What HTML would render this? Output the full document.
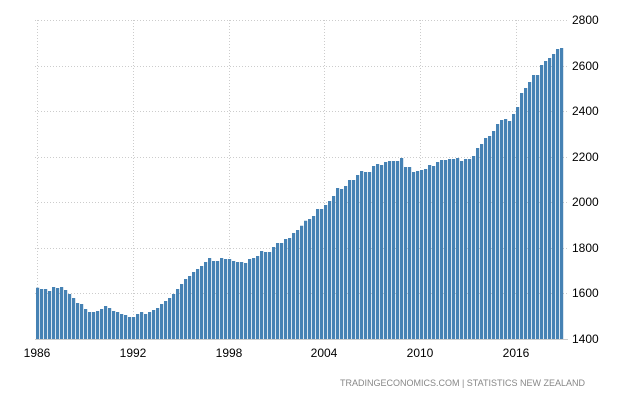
<!DOCTYPE html>
<html><head><style>body{margin:0;background:#fff}svg{display:block}</style></head><body>
<svg width="625" height="400" xmlns="http://www.w3.org/2000/svg" font-family="Liberation Sans, sans-serif">
<g stroke="#ccc" stroke-dasharray="1,2" stroke-width="1">
<line x1="35" x2="568" y1="20.5" y2="20.5"/><line x1="35" x2="568" y1="66.5" y2="66.5"/><line x1="35" x2="568" y1="111.5" y2="111.5"/><line x1="35" x2="568" y1="157.5" y2="157.5"/><line x1="35" x2="568" y1="202.5" y2="202.5"/><line x1="35" x2="568" y1="248.5" y2="248.5"/><line x1="35" x2="568" y1="293.5" y2="293.5"/>
<line x1="37.5" x2="37.5" y1="20" y2="339"/><line x1="133.5" x2="133.5" y1="20" y2="339"/><line x1="229.5" x2="229.5" y1="20" y2="339"/><line x1="324.5" x2="324.5" y1="20" y2="339"/><line x1="420.5" x2="420.5" y1="20" y2="339"/><line x1="516.5" x2="516.5" y1="20" y2="339"/>
</g>
<path fill="#4682b4" d="
M36 339V287.7h3.2V339zM40 339V289h3.2V339zM44 339V289h3.2V339zM48 339V291h3.2V339zM52 339V287h3.2V339zM56 339V288h3.2V339zM60 339V287h3.2V339zM64 339V290h3.2V339zM68 339V294h3.2V339zM72 339V298h3.2V339z
M76 339V303h3.2V339zM80 339V304h3.2V339zM84 339V309h3.2V339zM88 339V312h3.2V339zM92 339V312h3.2V339zM96 339V311h3.2V339zM100 339V309h3.2V339zM104 339V306h3.2V339zM108 339V308h3.2V339zM112 339V311h3.2V339z
M116 339V312h3.2V339zM120 339V314h3.2V339zM124 339V315h3.2V339zM128 339V317h3.2V339zM132 339V317h3.2V339zM136 339V314h3.2V339zM140 339V312h3.2V339zM144 339V314h3.2V339zM148 339V312h3.2V339zM152 339V310h3.2V339z
M156 339V308h3.2V339zM160 339V304h3.2V339zM164 339V301h3.2V339zM168 339V298h3.2V339zM172 339V294h3.2V339zM176 339V289h3.2V339zM180 339V284h3.2V339zM184 339V279h3.2V339zM188 339V276h3.2V339zM192 339V272h3.2V339z
M196 339V269h3.2V339zM200 339V266h3.2V339zM204 339V262h3.2V339zM208 339V258h3.2V339zM212 339V261h3.2V339zM216 339V261h3.2V339zM220 339V258h3.2V339zM224 339V259h3.2V339zM228 339V259h3.2V339zM232 339V261h3.2V339z
M236 339V262h3.2V339zM240 339V262h3.2V339zM244 339V263h3.2V339zM248 339V259h3.2V339zM252 339V258h3.2V339zM256 339V256h3.2V339zM260 339V251h3.2V339zM264 339V252h3.2V339zM268 339V252h3.2V339zM272 339V247h3.2V339z
M276 339V243h3.2V339zM280 339V243h3.2V339zM284 339V239h3.2V339zM288 339V238h3.2V339zM292 339V233h3.2V339zM296 339V230h3.2V339zM300 339V225.7h3.2V339zM304 339V220.7h3.2V339zM308 339V219h3.2V339zM312 339V216h3.2V339z
M316 339V209h3.2V339zM320 339V209h3.2V339zM324 339V205h3.2V339zM328 339V201h3.2V339zM332 339V196h3.2V339zM336 339V188h3.2V339zM340 339V189h3.2V339zM344 339V186h3.2V339zM348 339V180h3.2V339zM352 339V180h3.2V339z
M356 339V175h3.2V339zM360 339V171h3.2V339zM364 339V172h3.2V339zM368 339V172h3.2V339zM372 339V166h3.2V339zM376 339V164h3.2V339zM380 339V165h3.2V339zM384 339V162h3.2V339zM388 339V161h3.2V339zM392 339V161h3.2V339z
M396 339V161h3.2V339zM400 339V158h3.2V339zM404 339V167h3.2V339zM408 339V167h3.2V339zM412 339V172h3.2V339zM416 339V171h3.2V339zM420 339V170h3.2V339zM424 339V169h3.2V339zM428 339V165h3.2V339zM432 339V166h3.2V339z
M436 339V162h3.2V339zM440 339V160h3.2V339zM444 339V160h3.2V339zM448 339V159h3.2V339zM452 339V159h3.2V339zM456 339V158h3.2V339zM460 339V161h3.2V339zM464 339V159h3.2V339zM468 339V159h3.2V339zM472 339V156h3.2V339z
M476 339V148h3.2V339zM480 339V144h3.2V339zM484 339V138h3.2V339zM488 339V136h3.2V339zM492 339V131h3.2V339zM496 339V124h3.2V339zM500 339V120h3.2V339zM504 339V119h3.2V339zM508 339V121h3.2V339zM512 339V114h3.2V339z
M516 339V107h3.2V339zM520 339V93h3.2V339zM524 339V88h3.2V339zM528 339V82h3.2V339zM532 339V75h3.2V339zM536 339V75h3.2V339zM540 339V65h3.2V339zM544 339V61h3.2V339zM548 339V58h3.2V339zM552 339V54h3.2V339z
M556 339V49h3.2V339zM560 339V48h3.2V339z"/>
<line x1="35" x2="568" y1="339.5" y2="339.5" stroke="#ccc"/>
<g font-size="12" fill="#000">
<text x="572" y="24">2800</text><text x="572" y="70">2600</text><text x="572" y="115">2400</text><text x="572" y="161">2200</text><text x="572" y="206">2000</text><text x="572" y="252">1800</text><text x="572" y="297">1600</text><text x="572" y="343">1400</text>
</g>
<g font-size="12" fill="#000" text-anchor="middle">
<text x="37" y="357">1986</text><text x="133" y="357">1992</text><text x="229" y="357">1998</text><text x="324" y="357">2004</text><text x="420" y="357">2010</text><text x="516" y="357">2016</text>
</g>
<text x="585" y="386" font-size="9" fill="#888" text-anchor="end">TRADINGECONOMICS.COM  |  STATISTICS NEW ZEALAND</text>
</svg>
</body></html>
